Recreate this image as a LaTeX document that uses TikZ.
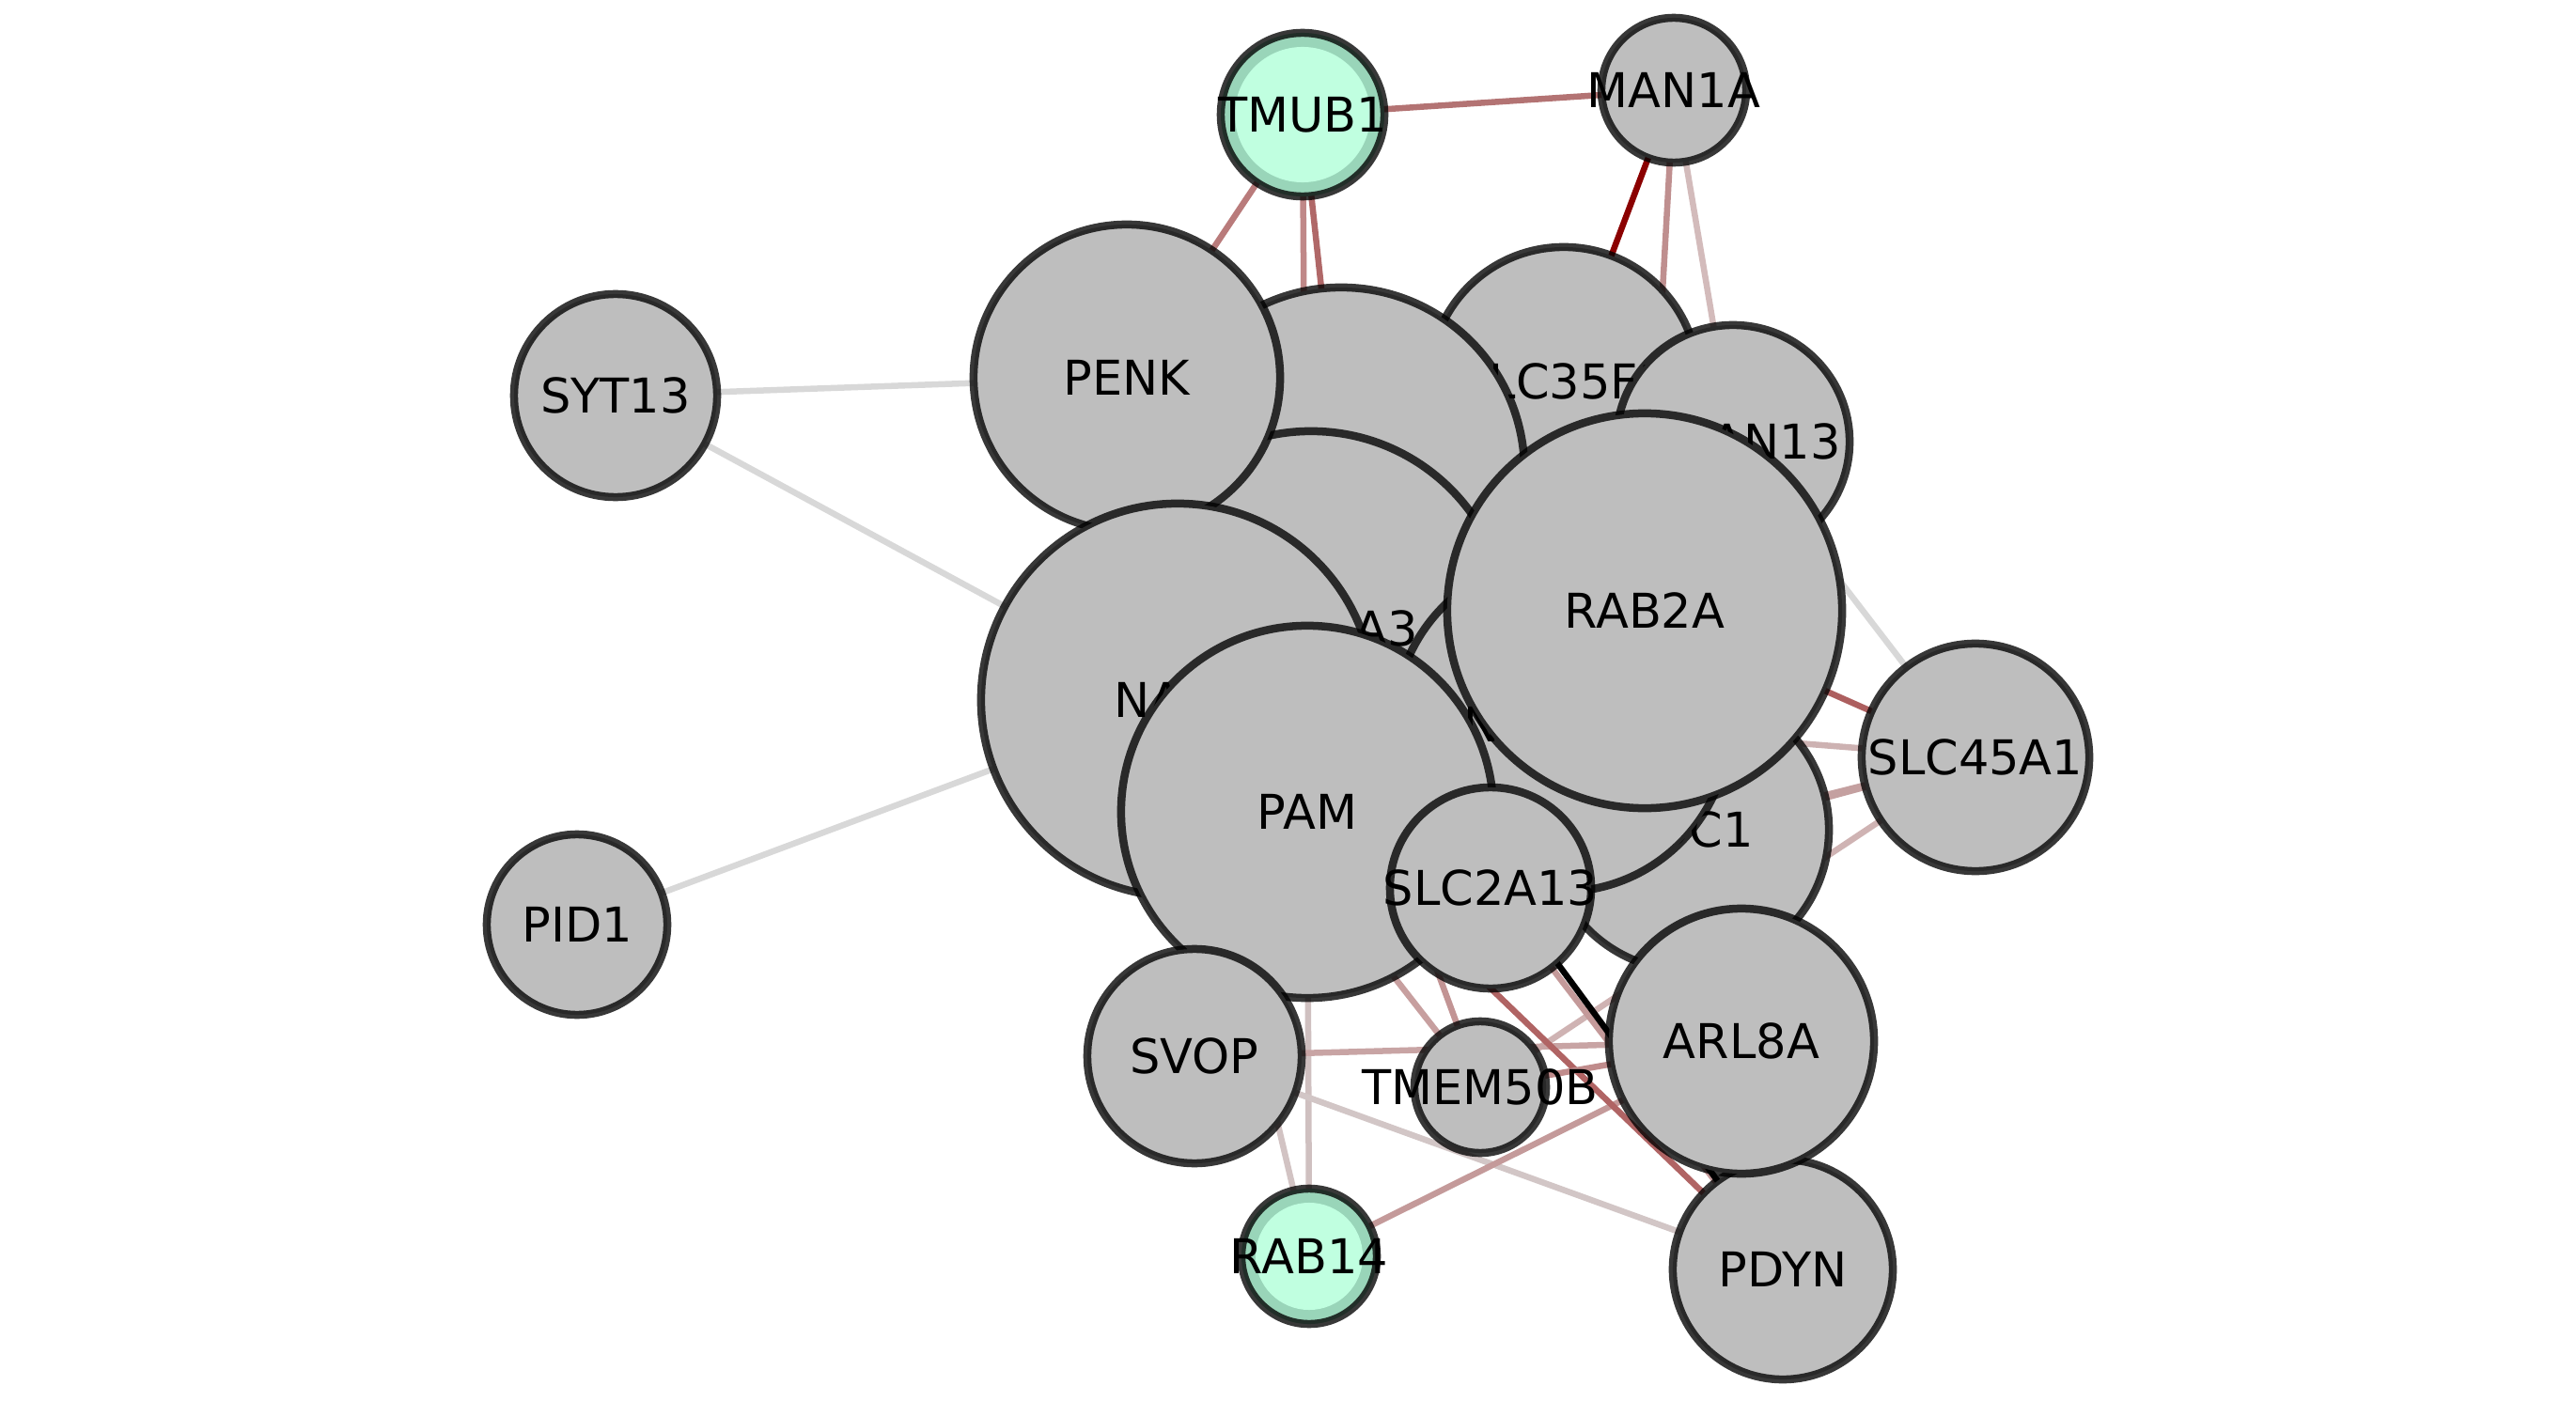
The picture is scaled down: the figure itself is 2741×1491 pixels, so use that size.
\documentclass[tikz,border=0pt]{standalone}
\usepackage{fontspec}
\setmainfont{DejaVu Sans}
\definecolor{nodegray}{RGB}{190,190,190}
\definecolor{mintring}{HTML}{99D5B9}
\definecolor{mintfill}{HTML}{C0FFE0}
\definecolor{lgray}{HTML}{D8D8D8}
\definecolor{eA}{HTML}{B37373}
\definecolor{eB}{HTML}{B97B7B}
\definecolor{eC}{HTML}{B06868}
\definecolor{eD}{HTML}{C08888}
\definecolor{eE}{HTML}{8B0000}
\definecolor{eF}{HTML}{BF8F8F}
\definecolor{eG}{HTML}{D3BBBB}
\definecolor{eH}{HTML}{AD5F5F}
\definecolor{eI}{HTML}{CDB2B2}
\definecolor{eJ}{HTML}{C4A0A0}
\definecolor{eK}{HTML}{CFB3B3}
\definecolor{eL}{HTML}{CFC0C0}
\definecolor{eM}{HTML}{D2C3C3}
\definecolor{eN}{HTML}{C8A4A4}
\definecolor{eO}{HTML}{D2C6C6}
\definecolor{eP}{HTML}{C49A9A}
\definecolor{eQ}{HTML}{C79F9F}
\definecolor{eR}{HTML}{C29494}
\definecolor{eS}{HTML}{B06464}
\definecolor{eT}{HTML}{C08C8C}
\pgfdeclarelayer{edges}
\pgfsetlayers{edges,main}
\begin{document}
\begin{tikzpicture}[x=0.01cm,y=-0.01cm,
  gene/.style={circle, draw=black, draw opacity=0.78, line width=0.085cm,
    fill=nodegray, inner sep=0pt},
  seed/.style={gene, fill=mintring},
  genetext/.style={inner sep=0pt, font=\fontsize{14.5pt}{17pt}\selectfont},
  link/.style={line width=0.065cm}]
\useasboundingbox (0,0) rectangle (2741,1491);

% nodes, back to front
\node[gene, minimum size=2.16cm] (syt13) at (655,421) {};
\node[genetext] at (syt13) {SYT13};
\node[gene, minimum size=1.92cm] (pid1) at (614,984) {};
\node[genetext] at (pid1) {PID1};
\node[gene, minimum size=2.86cm] (slc35f) at (1664,406) {};
\node[genetext] at (slc35f) {SLC35F1};
\node[gene, minimum size=3.90cm] (scg3) at (1427,501) {};
\node[genetext] at (scg3) {SCG3};
\node[gene, minimum size=4.20cm] (slc30a3) at (1395,669) {};
\node[genetext] at (slc30a3) {SLC30A3};
\node[gene, minimum size=3.26cm] (penk) at (1199,402) {};
\node[genetext] at (penk) {PENK};
\node[gene, minimum size=4.18cm] (napa) at (1253,745) {};
\node[genetext] at (napa) {NAPA};
\node[gene, minimum size=3.00cm] (sdc1) at (1796,883) {};
\node[genetext] at (sdc1) {SDC1};
\node[gene, minimum size=3.56cm] (necab) at (1662,771) {};
\node[genetext] at (necab) {NECAB3};
\node[gene, minimum size=3.96cm] (pam) at (1391,864) {};
\node[genetext] at (pam) {PAM};
\node[gene, minimum size=2.48cm] (tspan13) at (1844,470) {};
\node[genetext] at (tspan13) {TSPAN13};
\node[gene, minimum size=4.20cm] (rab2a) at (1750,650) {};
\node[genetext] at (rab2a) {RAB2A};
\node[gene, minimum size=2.14cm] (slc2a13) at (1586,945) {};
\node[genetext] at (slc2a13) {SLC2A13};
\node[gene, minimum size=2.28cm] (svop) at (1271,1124) {};
\node[genetext] at (svop) {SVOP};
\node[gene, minimum size=2.34cm] (pdyn) at (1897,1351) {};
\node[genetext] at (pdyn) {PDYN};
\node[gene, minimum size=2.82cm] (arl8a) at (1853,1108) {};
\node[genetext] at (arl8a) {ARL8A};
\node[gene, minimum size=1.40cm] (tmem50b) at (1575,1157) {};
\node[genetext] at (tmem50b) {TMEM50B};
\node[gene, minimum size=2.42cm] (slc45a1) at (2102,806) {};
\node[genetext] at (slc45a1) {SLC45A1};
\node[seed, minimum size=1.74cm] (tmub1) at (1386,122) {};
\fill[mintfill] (tmub1.center) circle (0.72cm);
\node[genetext] at (tmub1) {TMUB1};
\node[gene, minimum size=1.54cm] (man1a) at (1781,96) {};
\node[genetext] at (man1a) {MAN1A};
\node[seed, minimum size=1.44cm] (rab14) at (1393,1337) {};
\fill[mintfill] (rab14.center) circle (0.57cm);
\node[genetext] at (rab14) {RAB14};

% interactions, drawn beneath the nodes
\begin{pgfonlayer}{edges}
\draw[link, eA] (tmub1.center) -- (man1a.center);
\draw[link, eB] (tmub1.center) -- (penk.center);
\draw[link, eC] (tmub1.center) -- (scg3.center);
\draw[link, eD] (tmub1.center) -- (pam.center);
\draw[link, eE] (man1a.center) -- (slc35f.center);
\draw[link, eF] (man1a.center) -- (rab2a.center);
\draw[link, eG] (man1a.center) -- (tspan13.center);
\draw[link, lgray] (syt13.center) -- (penk.center);
\draw[link, lgray] (syt13.center) -- (napa.center);
\draw[link, lgray] (pid1.center) -- (napa.center);
\draw[link, lgray] (tspan13.center) -- (slc45a1.center);
\draw[link, eH] (rab2a.center) -- (slc45a1.center);
\draw[link, eI] (slc45a1.center) -- (necab.center);
\draw[link, eJ] (slc45a1.center) -- (sdc1.center);
\draw[link, eJ] (slc45a1.center) -- (slc2a13.center);
\draw[link, eK] (slc45a1.center) -- (tmem50b.center);
\draw[link, eL] (pam.center) -- (rab14.center);
\draw[link, eM] (napa.center) -- (rab14.center);
\draw[link, eN] (svop.center) -- (arl8a.center);
\draw[link, eO] (svop.center) -- (pdyn.center);
\draw[link, eP] (rab14.center) -- (arl8a.center);
\draw[link, eQ] (napa.center) -- (tmem50b.center);
\draw[link, eR] (slc30a3.center) -- (tmem50b.center);
\draw[link, eS] (pam.center) -- (pdyn.center);
\draw[link, eP] (slc2a13.center) -- (pdyn.center);
\draw[link, black] (slc30a3.center) -- (pdyn.center);
\draw[link, eT] (tmem50b.center) -- (arl8a.center);
\end{pgfonlayer}
\end{tikzpicture}
\end{document}
